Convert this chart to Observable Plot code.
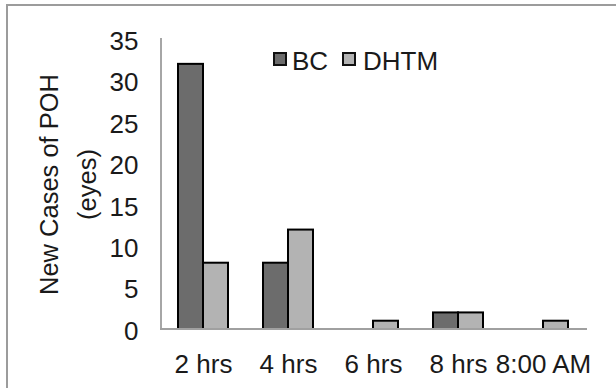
<!DOCTYPE html>
<html>
<head>
<meta charset="utf-8">
<script src="https://cdn.jsdelivr.net/npm/d3@7"></script>
<script src="https://cdn.jsdelivr.net/npm/@observablehq/plot@0.6"></script>
<style>
  html, body { margin: 0; padding: 0; background: #fff; overflow: hidden; }
  #wrap { position: relative; width: 616px; height: 388px; font-family: "Liberation Sans", Arial, sans-serif; color: #1a1a1a; }
  #chart { position: absolute; left: 0; top: 0; }
  #border { position: absolute; left: 6px; top: 4px; width: 640px; height: 420px; border: 2px solid #9c9c9c; box-sizing: border-box; }
  .sw { position: absolute; width: 14px; height: 14px; border: 2px solid #111; box-sizing: border-box; }
  .lt { position: absolute; font-size: 26px; line-height: 26px; white-space: nowrap; }
</style>
</head>
<body>
<div id="wrap">
  <div id="chart"></div>
  <div id="legend"></div>
  <div id="border"></div>
</div>
<script>
// Post-operative hypertension: new cases per time point, by method
const times = ["2 hrs", "4 hrs", "6 hrs", "8 hrs", "8:00 AM"];
const series = ["BC", "DHTM"];
const bcCases = [32, 8, 0, 2, 0];
const dhtmCases = [8, 12, 1, 2, 1];
const yTicks = [0, 5, 10, 15, 20, 25, 30, 35];
const yTitle = "New Cases of POH\n(eyes)";
const colors = ["#6c6c6c", "#b3b3b3"];

const rows = [];
times.forEach((t, i) => {
  rows.push({time: t, series: "BC", value: bcCases[i]});
  rows.push({time: t, series: "DHTM", value: dhtmCases[i]});
});

const chart = Plot.plot({
  width: 616,
  height: 388,
  marginLeft: 160,
  marginRight: 29,
  marginTop: 39,
  marginBottom: 59,
  style: {fontFamily: "'Liberation Sans', Arial, sans-serif", color: "#1a1a1a"},
  fx: {domain: times, paddingInner: 0.41, paddingOuter: 0.205, label: null},
  x: {domain: series, padding: 0, axis: null},
  y: {domain: [0, 35], label: null},
  color: {domain: series, range: colors},
  marks: [
    Plot.barY(rows, {
      fx: "time", x: "series", y: "value", fill: "series",
      stroke: "black", strokeWidth: 2,
      filter: d => d.value > 0
    }),
    // the y axis sits in the first facet, so its padding also covers the outer band gap
    Plot.axisY({ticks: yTicks, tickSize: 0, tickPadding: 40, fontSize: 26, dy: 2, label: null}),
    Plot.axisFx({anchor: "bottom", tickSize: 0, tickPadding: 25, fontSize: 26, label: null}),
    Plot.text([yTitle], {
      text: d => d, frameAnchor: "left", textAnchor: "middle", rotate: -90,
      dx: -114, lineHeight: 1.5, fontSize: 25.5, facet: "super"
    })
  ]
});
document.getElementById("chart").appendChild(chart);

// Axis lines spanning the whole panel, placed from the chart's own scales
const fxScale = chart.scale("fx");
const yScale = chart.scale("y");
const [xLeft, xRight] = fxScale.range;
const yBase = yScale.apply(yScale.domain[0]);
const yTop = yScale.apply(yScale.domain[1]);
const svg = d3.select(chart);
const axisLines = svg.append("g").attr("stroke-width", 2).attr("fill", "none");
axisLines.append("line")
  .attr("x1", xLeft + 1).attr("x2", xLeft + 1)
  .attr("y1", yTop - 1).attr("y2", yBase)
  .attr("stroke", "#a6a6a6");
axisLines.append("line")
  .attr("x1", xLeft).attr("x2", xRight)
  .attr("y1", yBase).attr("y2", yBase)
  .attr("stroke", "#a0a0a0");

// Legend: swatch + label for each series
const legend = document.getElementById("legend");
const legendItems = [
  {name: series[0], color: colors[0], swatchLeft: 273, textLeft: 292},
  {name: series[1], color: colors[1], swatchLeft: 342, textLeft: 363}
];
legendItems.forEach(item => {
  const sw = document.createElement("div");
  sw.className = "sw";
  sw.style.left = item.swatchLeft + "px";
  sw.style.top = "52px";
  sw.style.background = item.color;
  legend.appendChild(sw);
  const lt = document.createElement("div");
  lt.className = "lt";
  lt.style.left = item.textLeft + "px";
  lt.style.top = "48px";
  lt.textContent = item.name;
  legend.appendChild(lt);
});
</script>
</body>
</html>
